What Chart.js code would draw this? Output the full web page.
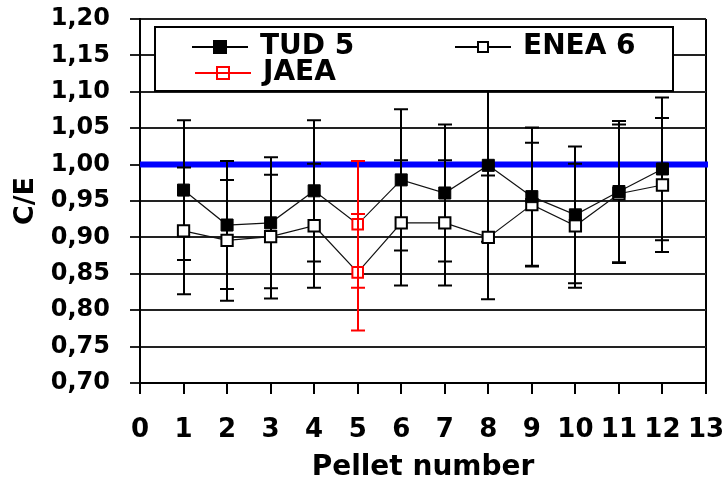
<!DOCTYPE html>
<html>
<head>
<meta charset="utf-8">
<script src="https://cdn.jsdelivr.net/npm/chart.js@4.4.1/dist/chart.umd.min.js"></script>
<style>
  html, body { margin: 0; padding: 0; background: #fff; }
  #wrap { width: 728px; height: 478px; }
</style>
</head>
<body>
<div id="wrap"><canvas id="ce-chart" width="728" height="478"></canvas></div>
<script>
// values
const pellets = [1, 2, 3, 4, 5, 6, 7, 8, 9, 10, 11, 12];
const tud5 = [0.965, 0.917, 0.920, 0.964, 0.918, 0.979, 0.961, 0.999, 0.956, 0.931, 0.963, 0.994];
const tud5Err = [0.096, 0.088, 0.090, 0.097, null, 0.097, 0.094, 0.105, 0.095, 0.094, 0.097, 0.098];
const enea6 = [0.909, 0.896, 0.901, 0.916, 0.852, 0.920, 0.920, 0.900, 0.945, 0.916, 0.960, 0.972];
const enea6Err = [0.087, 0.083, 0.085, 0.085, null, 0.086, 0.086, 0.085, 0.085, 0.085, 0.095, 0.092];
const jaeaPellet = [5, 5];
const jaea = [0.918, 0.852];
const jaeaErr = [0.087, 0.080];
const refValue = 1.0;
const xRange = [0, 13];
const yRange = [0.70, 1.20];

const FONT = "'DejaVu Sans', 'Liberation Sans', sans-serif";

function points(xs, ys) {
    return xs.map((x, i) => ({ x: x, y: ys[i] }));
}

function drawBars(chart, ds) {
    const ctx = chart.ctx;
    const xs = chart.scales.x, ys = chart.scales.y;
    ctx.save();
    ctx.strokeStyle = ds.errColor;
    ctx.lineWidth = 2;
    ds.data.forEach((p, i) => {
        const e = ds.errors[i];
        if (e == null) return;
        const px = Math.round(xs.getPixelForValue(p.x));
        const top = ys.getPixelForValue(p.y + e);
        const bot = ys.getPixelForValue(p.y - e);
        ctx.beginPath();
        ctx.moveTo(px, top); ctx.lineTo(px, bot);
        ctx.moveTo(px - 7, top); ctx.lineTo(px + 7, top);
        ctx.moveTo(px - 7, bot); ctx.lineTo(px + 7, bot);
        ctx.stroke();
    });
    ctx.restore();
}

const errorBars = {
    id: 'errorBars',
    beforeDatasetsDraw(chart) {
        const ctx = chart.ctx;
        const area = chart.chartArea;
        const yb = chart.scales.y.getPixelForValue(refValue);
        ctx.save();
        ctx.strokeStyle = '#0000ff';
        ctx.lineWidth = 6;
        ctx.beginPath();
        ctx.moveTo(area.left, yb);
        ctx.lineTo(area.right + 2, yb);
        ctx.stroke();
        ctx.restore();
        chart.data.datasets.forEach(ds => { if (ds.errors && !ds.errOnTop) drawBars(chart, ds); });
    },
    afterDatasetsDraw(chart) {
        chart.data.datasets.forEach(ds => { if (ds.errors && ds.errOnTop) drawBars(chart, ds); });
    }
};

const boxLegend = {
    id: 'boxLegend',
    afterDraw(chart) {
        const ctx = chart.ctx;
        const a = chart.chartArea;
        const left = a.left + 15, top = a.top + 8, right = a.right - 33, bottom = a.top + 72;
        ctx.save();
        ctx.fillStyle = '#fff';
        ctx.fillRect(left, top, right - left, bottom - top);
        ctx.strokeStyle = '#000';
        ctx.lineWidth = 2;
        ctx.strokeRect(left, top, right - left, bottom - top);

        const slots = [
            { lx: left + 37, ly: top + 20 },
            { lx: left + 300, ly: top + 20 },
            { lx: left + 40, ly: top + 46 }
        ];
        ctx.font = "bold 28px " + FONT;
        ctx.textBaseline = 'middle';
        ctx.textAlign = 'left';
        chart.data.datasets.forEach((ds, i) => {
            const s = slots[i];
            const c = ds.errColor;
            const w = 56;
            ctx.strokeStyle = c;
            ctx.lineWidth = 2;
            const drawLine = () => {
                ctx.beginPath();
                ctx.moveTo(s.lx, s.ly); ctx.lineTo(s.lx + w, s.ly);
                ctx.stroke();
            };
            const half = i === 1 ? 5 : 6;
            const cx = s.lx + w / 2;
            if (i !== 2) drawLine();
            ctx.fillStyle = i === 0 ? '#000' : '#fff';
            ctx.fillRect(cx - half, s.ly - half, half * 2, half * 2);
            ctx.strokeRect(cx - half, s.ly - half, half * 2, half * 2);
            if (i === 2) drawLine();
            ctx.fillStyle = '#000';
            ctx.fillText(ds.label, s.lx + w + 12, s.ly);
        });
        ctx.restore();
    }
};

new Chart(document.getElementById('ce-chart'), {
    type: 'line',
    data: {
        datasets: [{
            label: 'TUD 5',
            data: points(pellets, tud5),
            errors: tud5Err,
            errColor: '#000',
            borderColor: '#111',
            borderWidth: 1.2,
            pointStyle: 'rect',
            pointRadius: pellets.map(p => p === jaeaPellet[0] ? 0 : 8.5),
            pointBackgroundColor: '#000',
            pointBorderColor: '#000',
            pointBorderWidth: 1,
            order: 2
        }, {
            label: 'ENEA 6',
            data: points(pellets, enea6),
            errors: enea6Err,
            errColor: '#000',
            borderColor: '#111',
            borderWidth: 1.2,
            pointStyle: 'rect',
            pointRadius: pellets.map(p => p === jaeaPellet[0] ? 0 : 8),
            pointBackgroundColor: '#fff',
            pointBorderColor: '#000',
            pointBorderWidth: 2,
            order: 3
        }, {
            label: 'JAEA',
            data: points(jaeaPellet, jaea),
            errors: jaeaErr,
            errColor: '#ff0000',
            errOnTop: true,
            showLine: false,
            borderColor: '#ff0000',
            pointStyle: 'rect',
            pointRadius: 7.5,
            pointBackgroundColor: '#fff',
            pointBorderColor: '#ff0000',
            pointBorderWidth: 2,
            order: 1
        }]
    },
    options: {
        responsive: false,
        animation: false,
        layout: { padding: { top: 19, right: 22, bottom: 0, left: 0 } },
        plugins: {
            legend: { display: false },
            tooltip: { enabled: false }
        },
        scales: {
            x: {
                type: 'linear',
                min: xRange[0],
                max: xRange[1],
                afterFit: s => { s.height = 95; s.paddingLeft = 0; s.paddingRight = 0; },
                ticks: {
                    stepSize: 1,
                    padding: 21,
                    color: '#000',
                    font: { family: FONT, size: 26, weight: 'bold' }
                },
                grid: {
                    drawOnChartArea: true,
                    color: c => (c.tick && c.tick.value === xRange[1]) ? '#000' : 'rgba(0,0,0,0)',
                    tickColor: '#000',
                    lineWidth: 2,
                    tickLength: 11
                },
                border: { color: '#000', width: 2 },
                title: {
                    display: true,
                    text: 'Pellet number',
                    color: '#000',
                    padding: { top: 0, bottom: 0 },
                    font: { family: FONT, size: 28, weight: 'bold', lineHeight: 0.72 }
                }
            },
            y: {
                min: yRange[0],
                max: yRange[1],
                afterFit: s => { s.width = 140; s.paddingTop = 0; s.paddingBottom = 0; },
                ticks: {
                    stepSize: 0.05,
                    padding: 20,
                    color: '#000',
                    font: { family: FONT, size: 24, weight: 'bold' },
                    callback: v => v.toFixed(2).replace('.', ',')
                },
                grid: {
                    color: '#222',
                    lineWidth: 2,
                    tickLength: 10
                },
                border: { color: '#000', width: 2 },
                title: {
                    display: true,
                    text: 'C/E',
                    color: '#000',
                    padding: { top: 10, bottom: 0 },
                    font: { family: FONT, size: 27, weight: 'bold' }
                }
            }
        }
    },
    plugins: [errorBars, boxLegend]
});
</script>
</body>
</html>
